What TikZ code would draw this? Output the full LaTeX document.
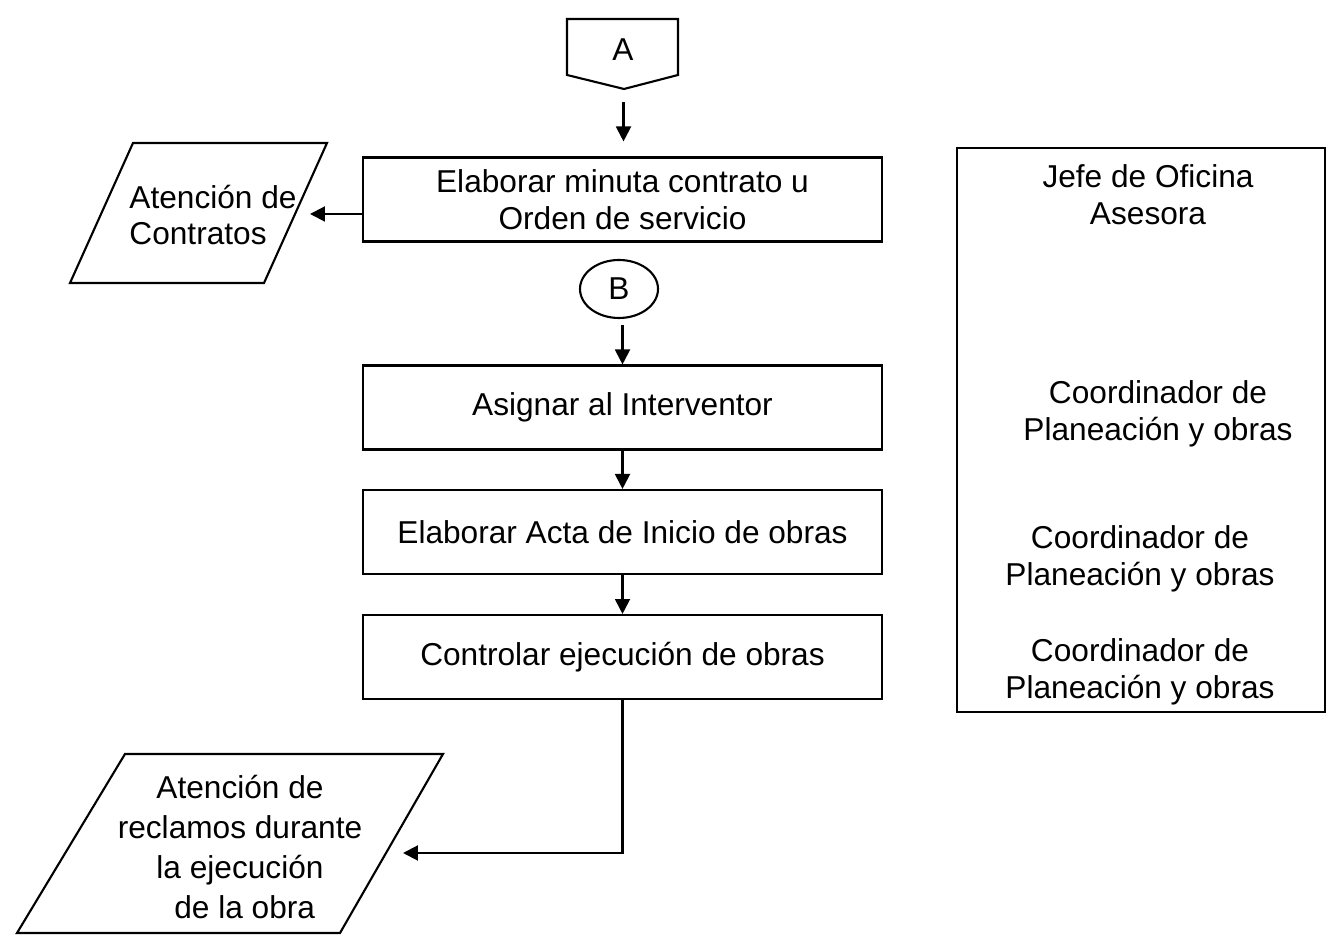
\documentclass[tikz,border=0pt]{standalone}
\usepackage{fontspec}
\setmainfont{Liberation Sans}
\usepackage{tikz}
\usetikzlibrary{positioning,calc,shapes.geometric,arrows.meta}
\tikzset{
  txt/.style      = {font=\fontsize{18}{21}\selectfont, align=center, inner sep=0pt},
  proc/.style     = {txt, draw=black, line width=1.2pt, minimum width=10.38cm, minimum height=1.68cm},
  shp/.style      = {draw=black, line width=1.2pt, line join=miter},
  conn/.style     = {txt, draw=black, line width=1.2pt, ellipse, minimum width=1.56cm, minimum height=1.16cm},
  flow/.style     = {-{Triangle[length=8.5pt,width=8.5pt]}, line width=1.2pt},
  roles/.style    = {draw=black, line width=1.2pt, minimum width=7.36cm, minimum height=11.28cm, inner sep=0pt},
}

\begin{document}
\begin{tikzpicture}[x=1cm,y=1cm]
  \useasboundingbox (0,0) rectangle (26.62,18.8);

  % off-page connector A
  \draw[shp] (11.34,18.42) -- (13.56,18.42) -- (13.56,17.3) -- (12.48,17.02) -- (11.34,17.3) -- cycle;
  \node[txt] (a) at (12.46,17.81) {A};
  \coordinate (aout) at (12.47,16.76);

  % ---- main column ----
  \node[proc] (minuta)  at (12.45,14.81) {Elaborar minuta contrato u\\Orden de servicio};
  \node[conn] (b)       at (12.38,13.02) {B};
  \node[proc] (asignar) at (12.45,10.65) {Asignar al Interventor};
  \node[proc] (acta)    at (12.45,8.16)  {Elaborar Acta de Inicio de obras};
  \node[proc] (control) at (12.45,5.66)  {Controlar ejecución de obras};

  % ---- left: documents ----
  \draw[shp] (1.4,13.14) -- (2.66,15.94) -- (6.54,15.94) -- (5.28,13.14) -- cycle;
  \node[txt, align=left] (contratos) at (4.26,14.5) {Atención de\\Contratos};
  \coordinate (cin) at (6.2,14.52);

  \draw[shp] (0.34,0.14) -- (2.5,3.72) -- (8.86,3.72) -- (6.8,0.14) -- cycle;
  \node[txt, font=\fontsize{18}{22.7}\selectfont] (reclamos) at (4.8,1.86)
    {Atención de\\reclamos durante\\la ejecución\\\hspace*{0.3em}de la obra};
  \coordinate (rin) at (8.06,1.74);

  % connectors
  \draw[flow, shorten >=0.3cm] (aout) -- (minuta.north -| aout);
  \draw[flow] (minuta.west |- cin) -- (cin);
  \draw[flow, shorten <=0.12cm] (b.south -| asignar) -- (asignar.north);
  \draw[flow] (asignar) -- (acta);
  \draw[flow] (acta) -- (control);
  \draw[flow] (control.south) -- (control.south |- rin) -- (rin);

  % ---- right: responsables ----
  \node[roles] (resp) at (22.82,10.2) {};
  \node[txt] (jefe)  at (22.96,14.91) {Jefe de Oficina\\Asesora};
  \node[txt] (coor1) at (23.16,10.52) {Coordinador de\\Planeación y obras};
  \node[txt] (coor2) at (22.8,7.62)   {Coordinador de\\Planeación y obras};
  \node[txt] (coor3) at (22.8,5.36)   {Coordinador de\\Planeación y obras};
\end{tikzpicture}
\end{document}
